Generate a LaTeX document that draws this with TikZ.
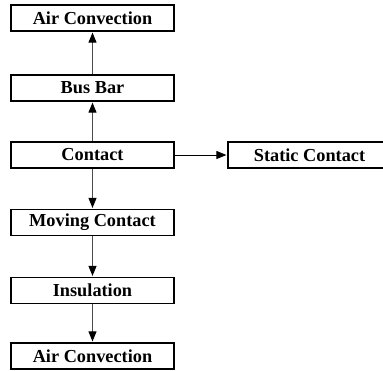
\documentclass[tikz,border=0pt]{standalone}
\usepackage{fontspec}
\setmainfont{Liberation Serif}
\usetikzlibrary{arrows.meta}
\tikzset{
  box/.style={draw=black, line width=1.6pt, minimum width=163pt, minimum height=26pt, inner sep=0pt, font=\fontsize{18.3}{20}\selectfont\bfseries, fill=white},
  conn/.style={draw=black!70, line width=1pt, -{Triangle[length=10pt,width=8pt,color=black]}, shorten >=0.8pt},
}
\begin{document}
\begin{tikzpicture}[x=1pt,y=1pt]
\useasboundingbox (0,0) rectangle (383,-370);
\node[box] (air1) at (92.5,-18) {Air Convection};
\node[box] (bus) at (92.5,-88) {Bus Bar};
\node[box] (contact) at (92.5,-155) {Contact};
\node[box] (static) at (309.5,-155) {Static Contact};
\node[box] (moving) at (92.5,-222.5) {Moving Contact};
\node[box] (insul) at (92.5,-290.5) {Insulation};
\node[box] (air2) at (92.5,-356) {Air Convection};
\draw[conn] (bus) -- (air1);
\draw[conn] (contact) -- (bus);
\draw[conn, draw=black] (contact) -- (static);
\draw[conn] (contact) -- (moving);
\draw[conn] (moving) -- (insul);
\draw[conn] (insul) -- (air2);
\end{tikzpicture}
\end{document}
